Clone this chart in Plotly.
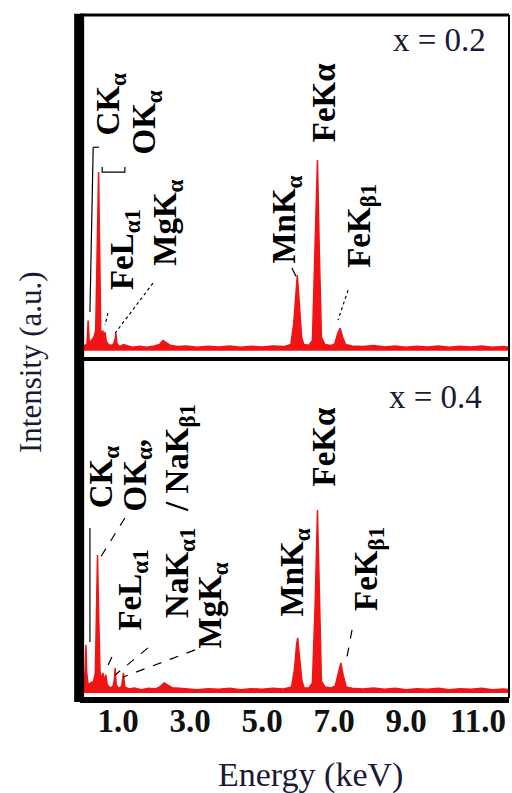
import plotly.graph_objects as go

# ---------------- data ----------------
energy_top = [0.00, 0.08, 0.14, 0.17, 0.20, 0.26, 0.33, 0.38, 0.42, 0.46, 0.49, 0.52, 0.55, 0.58,
              0.61, 0.64, 0.67, 0.72, 0.80, 0.88, 0.92, 0.94, 0.97, 1.05, 1.15, 1.25, 1.40, 1.60,
              1.80, 2.00, 2.15, 2.25, 2.32, 2.45, 2.65, 2.90, 3.20, 3.50, 3.80, 4.10, 4.40, 4.70,
              5.00, 5.30, 5.60, 5.80, 5.88, 5.95, 5.98, 6.03, 6.10, 6.16, 6.30, 6.40, 6.48, 6.54,
              6.59, 6.65, 6.75, 6.90, 7.02, 7.10, 7.17, 7.24, 7.32, 7.50, 7.80, 8.10, 8.40, 8.70,
              9.00, 9.30, 9.60, 9.90, 10.20, 10.50, 10.80, 11.10, 11.40, 11.70, 11.90]
intensity_top = [1.0, 1.5, 2.0, 9.0, 2.5, 3.0, 4.0, 6.0, 30.0, 53.2, 30.0, 6.0, 4.5, 6.0,
                 3.5, 5.5, 3.0, 2.0, 1.5, 2.0, 3.5, 5.2, 2.0, 1.2, 1.8, 1.5, 1.0, 1.3,
                 1.0, 1.4, 1.8, 3.0, 2.5, 1.6, 1.2, 1.4, 1.0, 1.3, 1.1, 1.4, 1.0, 1.3,
                 1.1, 1.4, 1.2, 1.8, 8.0, 20.0, 22.5, 15.0, 4.0, 1.8, 1.6, 3.0, 30.0, 56.8,
                 30.0, 4.0, 1.8, 1.5, 2.0, 5.0, 6.7, 4.0, 1.8, 1.4, 1.2, 1.5, 1.1, 1.4,
                 1.0, 1.3, 1.1, 1.4, 1.0, 1.3, 1.1, 1.4, 1.0, 1.2, 1.0]

energy_bot = [0.00, 0.06, 0.09, 0.11, 0.13, 0.17, 0.24, 0.32, 0.37, 0.40, 0.43, 0.46, 0.50, 0.54,
              0.58, 0.62, 0.66, 0.70, 0.78, 0.86, 0.90, 0.92, 0.95, 1.02, 1.10, 1.15, 1.19, 1.30,
              1.45, 1.65, 1.85, 2.05, 2.18, 2.28, 2.36, 2.50, 2.70, 2.90, 3.20, 3.50, 3.80, 4.10,
              4.40, 4.70, 5.00, 5.30, 5.60, 5.82, 5.90, 5.96, 5.99, 6.04, 6.11, 6.17, 6.30, 6.40,
              6.48, 6.54, 6.59, 6.65, 6.75, 6.90, 7.03, 7.11, 7.19, 7.26, 7.34, 7.50, 7.80, 8.10,
              8.40, 8.70, 9.00, 9.30, 9.60, 9.90, 10.20, 10.50, 10.80, 11.10, 11.40, 11.70, 11.90]
intensity_bot = [1.0, 2.0, 8.0, 14.4, 6.0, 2.5, 3.0, 3.5, 6.0, 25.0, 41.3, 25.0, 6.3, 4.0,
                 6.0, 3.5, 5.5, 2.5, 1.5, 2.0, 4.0, 7.5, 2.5, 1.3, 2.0, 6.0, 1.8, 1.2,
                 1.5, 1.0, 1.4, 1.2, 2.0, 3.0, 2.4, 1.6, 1.4, 1.2, 1.0, 1.3, 1.1, 1.4,
                 1.0, 1.3, 1.1, 1.4, 1.2, 1.8, 7.0, 14.5, 16.5, 11.0, 3.5, 1.6, 1.5, 3.0,
                 28.0, 54.8, 28.0, 3.5, 1.8, 1.5, 2.0, 6.0, 9.0, 5.0, 1.8, 1.4, 1.2, 1.5,
                 1.1, 1.4, 1.0, 1.3, 1.1, 1.4, 1.0, 1.3, 1.1, 1.4, 1.0, 1.2, 1.0]

tick_vals = [1, 3, 5, 7, 9, 11]
tick_text = ["1.0", "3.0", "5.0", "7.0", "9.0", "11.0"]

# peak labels: (text, energy, intensity)
labels_top = [
    ("CK<sub>α</sub>", 0.80, 73.6),
    ("OK<sub>α</sub>", 1.78, 68.0),
    ("FeL<sub>α1</sub>", 1.18, 30.1),
    ("MgK<sub>α</sub>", 2.37, 38.2),
    ("MnK<sub>α</sub>", 5.68, 38.9),
    ("FeKα", 6.71, 73.9),
    ("FeK<sub>β1</sub>", 7.74, 37.1),
]
labels_bot = [
    ("CK<sub>α</sub>", 0.60, 64.8),
    ("OK<sub>α</sub>,", 1.54, 65.3),
    ("NaK<sub>α1</sub>\u00a0\u00a0/\u00a0NaK<sub>β1</sub>", 2.72, 54.5),
    ("FeL<sub>α1</sub>", 1.40, 30.8),
    ("MgK<sub>α</sub>", 3.62, 26.3),
    ("MnK<sub>α</sub>", 5.89, 36.1),
    ("FeKα", 6.71, 73.7),
    ("FeK<sub>β1</sub>", 7.94, 37.1),
]
# leader lines: (x0, y0, x1, y1, dash)
leaders_top = [
    (0.31, 60.6, 0.22, 11.5, "solid"),
    (0.31, 60.6, 0.47, 60.6, "solid"),
    (0.72, 11.2, 0.64, 7.6, "dot"),
    (1.97, 20.1, 0.92, 5.2, "dot"),
    (5.83, 24.6, 5.94, 22.2, "solid"),
    (7.39, 18.0, 7.11, 9.1, "dot"),
]
bracket_top = [(0.56, 54.7), (0.56, 53.2), (1.19, 53.2), (1.19, 54.7)]
leaders_bot = [
    (0.22, 49.4, 0.22, 15.3, "solid"),
    (1.19, 52.4, 0.50, 40.4, "dash"),
    (0.83, 10.8, 0.64, 6.3, "dash"),
    (1.83, 13.5, 0.92, 5.4, "dash"),
    (3.14, 12.9, 1.14, 4.8, "dash"),
    (7.50, 18.9, 7.36, 10.8, "dash"),
]

RED = "#f21414"
SERIF = "Liberation Serif, Times New Roman, serif"
TXT = "#1a1a36"
LABEL_FONT = dict(family=SERIF, size=33, color="#000", weight="bold")

fig = go.Figure()
fig.add_trace(go.Scatter(x=energy_top, y=intensity_top, xaxis="x2", yaxis="y",
                         mode="lines", line=dict(color=RED, width=1.5),
                         fill="tozeroy", fillcolor=RED, hoverinfo="skip"))
fig.add_trace(go.Scatter(x=energy_bot, y=intensity_bot, xaxis="x", yaxis="y2",
                         mode="lines", line=dict(color=RED, width=1.5),
                         fill="tozeroy", fillcolor=RED, hoverinfo="skip"))

split = 0.4963
annotations = []
for t, e, i in labels_top:
    annotations.append(dict(text=t, x=e, y=i, xref="x2", yref="y", showarrow=False,
                            textangle=-90, font=LABEL_FONT, xanchor="center", yanchor="middle"))
for t, e, i in labels_bot:
    annotations.append(dict(text=t, x=e, y=i, xref="x", yref="y2", showarrow=False,
                            textangle=-90, font=LABEL_FONT, xanchor="center", yanchor="middle"))
annotations += [
    dict(text="x = 0.2", x=9.94, y=92.5, xref="x2", yref="y", showarrow=False,
         font=dict(family=SERIF, size=33, color=TXT)),
    dict(text="x = 0.4", x=9.81, y=88.6, xref="x", yref="y2", showarrow=False,
         font=dict(family=SERIF, size=33, color=TXT)),
    dict(text="Energy (keV)", x=0.538, y=-0.1127, xref="paper", yref="paper", showarrow=False,
         font=dict(family=SERIF, size=34, color=TXT), xanchor="center", yanchor="middle"),
    dict(text="Intensity (a.u.)", x=-0.114, y=0.492, xref="paper", yref="paper", showarrow=False,
         textangle=-90, font=dict(family=SERIF, size=31, color=TXT), xanchor="center", yanchor="middle"),
]

shapes = []
for x0, y0, x1, y1, d in leaders_top:
    shapes.append(dict(type="line", xref="x2", yref="y", x0=x0, y0=y0, x1=x1, y1=y1,
                       line=dict(color="#000", width=1.2, dash=d)))
path = "M " + " L ".join(f"{a},{b}" for a, b in bracket_top)
shapes.append(dict(type="path", xref="x2", yref="y", path=path, line=dict(color="#000", width=1.2)))
for x0, y0, x1, y1, d in leaders_bot:
    shapes.append(dict(type="line", xref="x", yref="y2", x0=x0, y0=y0, x1=x1, y1=y1,
                       line=dict(color="#000", width=1.2, dash=d)))
# frame
shapes += [
    dict(type="line", xref="paper", yref="paper", x0=0, x1=1, y0=1, y1=1, line=dict(color="#000", width=3)),
    dict(type="line", xref="paper", yref="paper", x0=1, x1=1, y0=0, y1=1, line=dict(color="#000", width=2)),
    dict(type="line", xref="paper", yref="paper", x0=0, x1=1, y0=split, y1=split, line=dict(color="#000", width=4)),
    dict(type="line", xref="paper", yref="paper", x0=0, x1=1.0, y0=-0.003, y1=-0.003, line=dict(color="#000", width=6)),
    dict(type="line", xref="paper", yref="paper", x0=-0.002, x1=-0.002, y0=-0.006, y1=1.002, line=dict(color="#000", width=10)),
]

xr = [-0.056, 11.86]
fig.update_layout(
    width=512, height=793,
    margin=dict(l=80, r=3, t=15, b=95),
    paper_bgcolor="white", plot_bgcolor="white",
    showlegend=False,
    xaxis=dict(domain=[0, 1], anchor="y2", range=xr, tickvals=tick_vals, ticktext=tick_text,
               ticks="", showgrid=False, zeroline=False,
               showline=False, tickfont=dict(family=SERIF, size=33, color="#111", weight="bold")),
    xaxis2=dict(domain=[0, 1], anchor="y", range=xr, matches="x", showticklabels=False,
                showgrid=False, zeroline=False, showline=False),
    yaxis=dict(domain=[split, 1], anchor="x2", range=[-2.5, 100], visible=False),
    yaxis2=dict(domain=[0, split], anchor="x", range=[-1.5, 100], visible=False),
    annotations=annotations,
    shapes=shapes,
)

fig.write_html("out.html")
